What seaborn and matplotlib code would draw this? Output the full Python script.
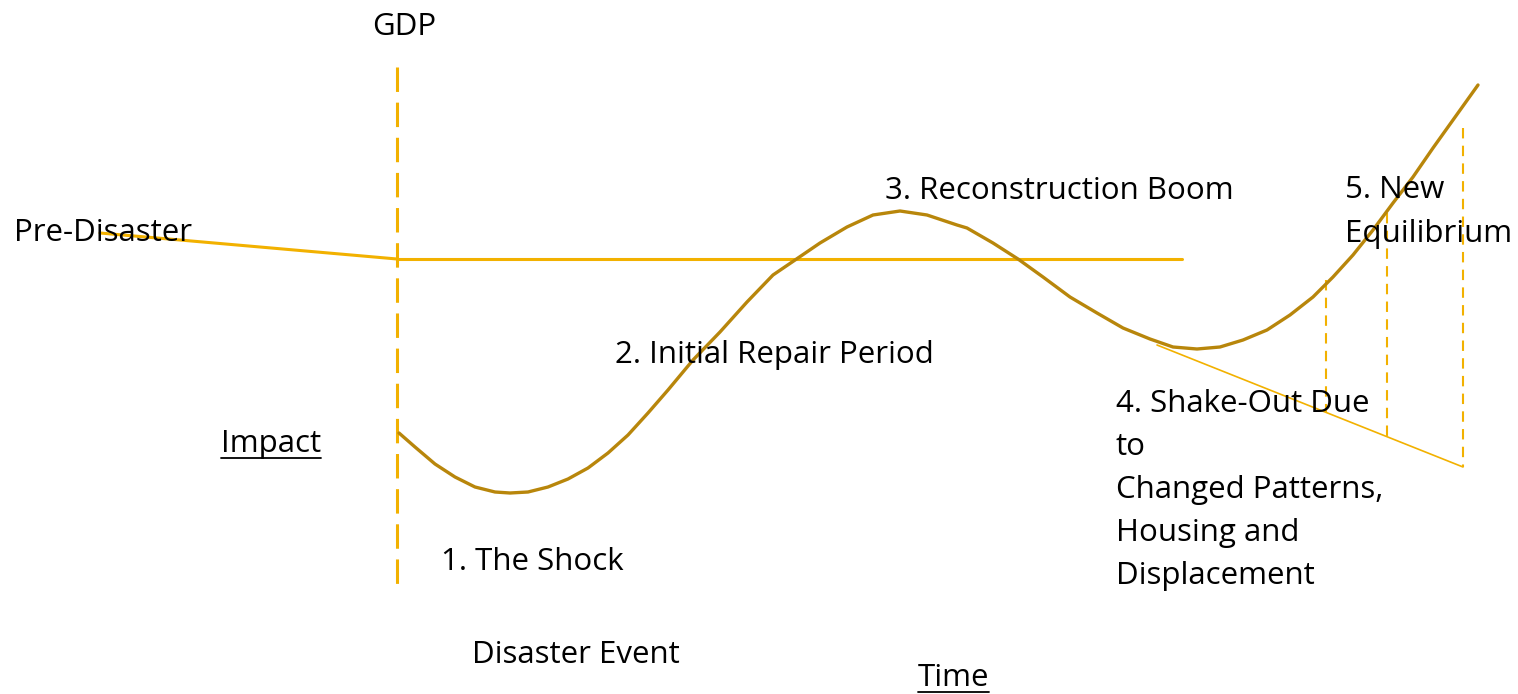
import numpy as np
import pandas as pd
import seaborn as sns
import matplotlib.pyplot as plt

# GDP path after the disaster (pixel-like units, y grows downward)
curve_x = [399, 415, 435, 455, 475, 495, 510, 528, 548, 568, 588, 608, 628, 648, 668,
           693, 720, 747, 773, 798, 820, 847, 873, 900, 927, 957, 967, 993, 1018,
           1043, 1070, 1097, 1123, 1150, 1173, 1197, 1220, 1243, 1267, 1290, 1313,
           1333, 1353, 1373, 1393, 1413, 1433, 1453, 1478]
curve_y = [433, 447, 464, 477, 487, 492, 493, 492, 487, 479, 468, 453, 435, 413, 390,
           360, 332, 302, 275, 258, 243, 227, 215, 211, 215, 225, 228, 243, 259,
           277, 297, 313, 328, 339, 347, 349, 347, 340, 330, 315, 297,
           277, 255, 230, 203, 177, 148, 120, 85]

# straight reference lines
pre_x, pre_y = [100, 397], [233, 259]
base_x, base_y = [397, 1182], [259, 259]
shake_x, shake_y = [1157, 1463], [345, 467]

# dashed guides
event_x, event_top, event_bottom = 397, 67, 594
guide_x = [1326, 1387, 1463]
guide_top = [280, 213, 128]
guide_bottom = [412, 437, 467]

# labels: (text, x, baseline y)
labels = [
    ("GDP", 372, 35),
    ("Pre-Disaster", 14, 241),
    ("1. The Shock", 441, 570),
    ("Disaster Event", 472, 663),
    ("2. Initial Repair Period", 615, 363),
    ("3. Reconstruction Boom", 885, 199),
    ("5. New", 1345, 198),
    ("Equilibrium", 1345, 242),
]
shake_lines = ["4. Shake-Out Due", "to", "Changed Patterns,", "Housing and", "Displacement"]
shake_left, shake_first, shake_step = 1116, 412, 43
underlined = [("Impact", 221, 452), ("Time", 918, 686)]

gold = "#F2B100"
dark_gold = "#B8860B"

sns.set_theme(style="white")
plt.rcParams['font.family'] = ['Open Sans', 'DejaVu Sans']

fig = plt.figure(figsize=(15.18, 6.94), dpi=100)
ax = fig.add_axes([0, 0, 1, 1])

sns.lineplot(x=pre_x, y=pre_y, ax=ax, color=gold, linewidth=2.2)
sns.lineplot(x=base_x, y=base_y, ax=ax, color=gold, linewidth=2.2)
sns.lineplot(x=shake_x, y=shake_y, ax=ax, color=gold, linewidth=1.2)
ax.plot([event_x, event_x], [event_top, event_bottom], color=gold, linewidth=2.2,
        dashes=(8, 3.5))
for gx, gt, gb in zip(guide_x, guide_top, guide_bottom):
    ax.plot([gx, gx], [gt, gb], color=gold, linewidth=1.5, dashes=(5, 3.5))

df = pd.DataFrame({"x": curve_x, "y": curve_y})
sns.lineplot(data=df, x="x", y="y", ax=ax, sort=False, estimator=None,
             color=dark_gold, linewidth=2.4, solid_joinstyle="round")

fs = 22.5
for txt, x, y in labels:
    ax.text(x, y, txt, fontsize=fs, va="baseline", ha="left", color="black")
for i, line in enumerate(shake_lines):
    ax.text(shake_left, shake_first + i * shake_step, line, fontsize=fs,
            va="baseline", ha="left", color="black")

fig.canvas.draw()
renderer = fig.canvas.get_renderer()
inv = ax.transData.inverted()
for txt, x, y in underlined:
    t = ax.text(x, y, txt, fontsize=fs, va="baseline", ha="left", color="black")
    bb = t.get_window_extent(renderer)
    (x0, _), (x1, _) = inv.transform([[bb.x0, 0], [bb.x1, 0]])
    ax.plot([x0, x1], [y + 6, y + 6], color="black", linewidth=1.3)

ax.set_xlim(0, 1518)
ax.set_ylim(694, 0)
ax.axis("off")

fig.savefig("out.png", dpi=100)
